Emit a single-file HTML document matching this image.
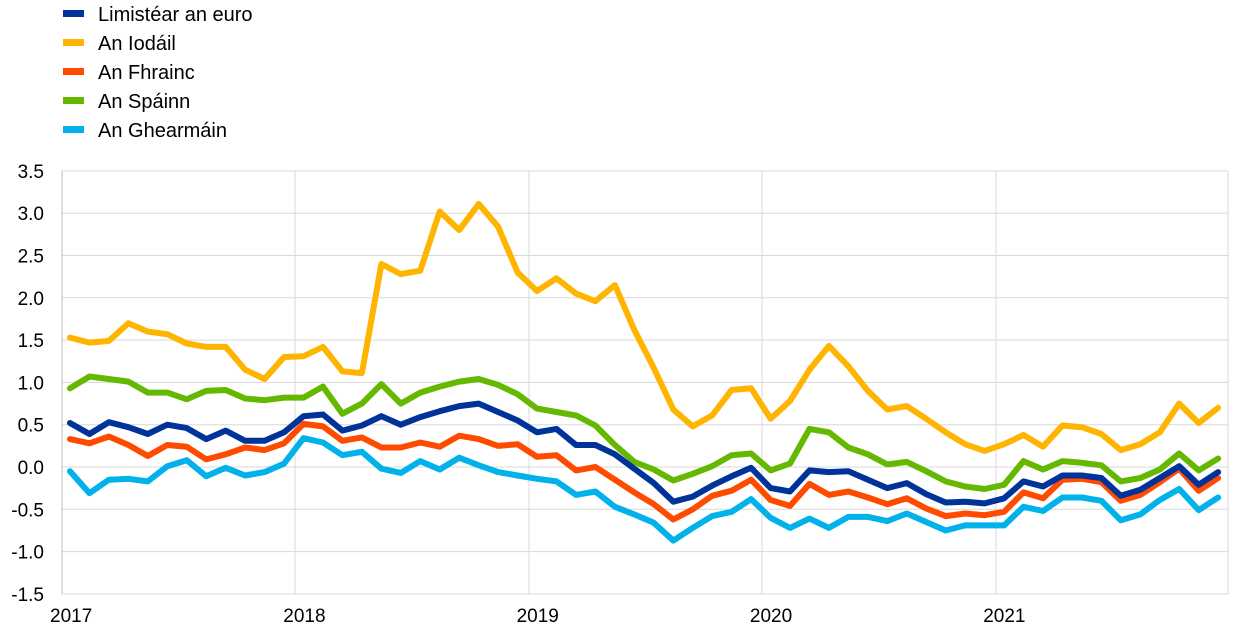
<!DOCTYPE html>
<html><head><meta charset="utf-8"><style>
body{margin:0;background:#fff;}
svg{display:block;font-family:"Liberation Sans",sans-serif;}
</style></head><body>
<svg id="c" width="1240" height="641" xmlns="http://www.w3.org/2000/svg">
<g font-size="20" fill="#000">
<rect x="63" y="10" width="21" height="7" fill="#003399"/><text x="98" y="21">Limistéar an euro</text>
<rect x="63" y="39" width="21" height="7" fill="#FFB400"/><text x="98" y="50">An Iodáil</text>
<rect x="63" y="68" width="21" height="7" fill="#FF4B00"/><text x="98" y="79">An Fhrainc</text>
<rect x="63" y="97" width="21" height="7" fill="#65B800"/><text x="98" y="108">An Spáinn</text>
<rect x="63" y="126" width="21" height="7" fill="#00B1EA"/><text x="98" y="137">An Ghearmáin</text>
</g>
<g id="grid" stroke="#d9d9d9" stroke-width="1"></g>
<g id="lab" font-size="19" fill="#000"></g>
<g id="ser" fill="none" stroke-width="6" stroke-linejoin="round" stroke-linecap="round"></g>
</svg>
<script>
const ns="http://www.w3.org/2000/svg";
const Y=v=>467-v*84.6, X=i=>70+i*19.46;
const g=document.getElementById('grid'),lab=document.getElementById('lab'),ser=document.getElementById('ser');
function el(p,t,a,txt){const e=document.createElementNS(ns,t);for(const k in a)e.setAttribute(k,a[k]);if(txt)e.textContent=txt;p.appendChild(e);return e;}
for(let k=0;k<=10;k++){const v=3.5-k*0.5,y=Y(v);el(g,'line',{x1:62,x2:1228,y1:y,y2:y});el(lab,'text',{x:44,y:y+7,'text-anchor':'end'},v.toFixed(1));}
[62,295,529,762,996,1228].forEach(x=>el(g,'line',{x1:x,x2:x,y1:171,y2:594}));
el(g,'line',{x1:62,x2:62,y1:171,y2:594,stroke:'#bfbfbf'});
['2017','2018','2019','2020','2021'].forEach((t,i)=>el(lab,'text',{x:50+i*233.3,y:622},t));
const D={
"#00B1EA":[-0.05,-0.31,-0.15,-0.14,-0.17,0.01,0.08,-0.11,-0.01,-0.10,-0.06,0.04,0.34,0.29,0.14,0.18,-0.02,-0.07,0.07,-0.03,0.11,0.02,-0.06,-0.10,-0.14,-0.17,-0.33,-0.29,-0.47,-0.56,-0.66,-0.87,-0.72,-0.58,-0.53,-0.38,-0.60,-0.72,-0.61,-0.72,-0.59,-0.59,-0.64,-0.55,-0.65,-0.75,-0.69,-0.69,-0.69,-0.47,-0.52,-0.36,-0.36,-0.40,-0.63,-0.56,-0.39,-0.26,-0.51,-0.36],
"#FF4B00":[0.33,0.28,0.36,0.26,0.13,0.26,0.24,0.09,0.15,0.23,0.20,0.28,0.51,0.48,0.31,0.35,0.23,0.23,0.29,0.24,0.37,0.33,0.25,0.27,0.12,0.14,-0.04,0.00,-0.15,-0.30,-0.44,-0.62,-0.50,-0.34,-0.28,-0.15,-0.39,-0.46,-0.20,-0.33,-0.29,-0.36,-0.44,-0.37,-0.49,-0.58,-0.55,-0.57,-0.53,-0.30,-0.37,-0.15,-0.14,-0.18,-0.40,-0.33,-0.18,-0.02,-0.28,-0.13],
"#65B800":[0.93,1.07,1.04,1.01,0.88,0.88,0.80,0.90,0.91,0.81,0.79,0.82,0.82,0.95,0.63,0.75,0.98,0.75,0.88,0.95,1.01,1.04,0.97,0.86,0.69,0.65,0.61,0.49,0.26,0.06,-0.03,-0.16,-0.08,0.01,0.14,0.16,-0.04,0.04,0.45,0.41,0.23,0.15,0.03,0.06,-0.05,-0.17,-0.23,-0.26,-0.21,0.07,-0.03,0.07,0.05,0.02,-0.17,-0.13,-0.03,0.16,-0.04,0.10],
"#FFB400":[1.53,1.47,1.49,1.70,1.60,1.57,1.46,1.42,1.42,1.15,1.04,1.30,1.31,1.42,1.13,1.11,2.40,2.28,2.32,3.02,2.80,3.11,2.84,2.30,2.08,2.23,2.05,1.96,2.15,1.62,1.17,0.68,0.48,0.61,0.91,0.93,0.57,0.78,1.15,1.43,1.19,0.90,0.68,0.72,0.57,0.41,0.27,0.19,0.27,0.38,0.24,0.49,0.47,0.39,0.20,0.27,0.41,0.75,0.52,0.70],
"#003399":[0.52,0.39,0.53,0.47,0.39,0.50,0.46,0.33,0.43,0.31,0.31,0.41,0.60,0.62,0.43,0.49,0.60,0.50,0.59,0.66,0.72,0.75,0.65,0.55,0.41,0.45,0.26,0.26,0.15,-0.02,-0.19,-0.41,-0.35,-0.22,-0.11,-0.01,-0.25,-0.29,-0.04,-0.06,-0.05,-0.15,-0.25,-0.19,-0.32,-0.42,-0.41,-0.43,-0.37,-0.17,-0.23,-0.10,-0.10,-0.13,-0.34,-0.27,-0.13,0.01,-0.21,-0.06]};
for(const c in D){el(ser,'polyline',{stroke:c,points:D[c].map((v,i)=>X(i).toFixed(1)+','+Y(v).toFixed(1)).join(' ')});}
</script>
</body></html>
